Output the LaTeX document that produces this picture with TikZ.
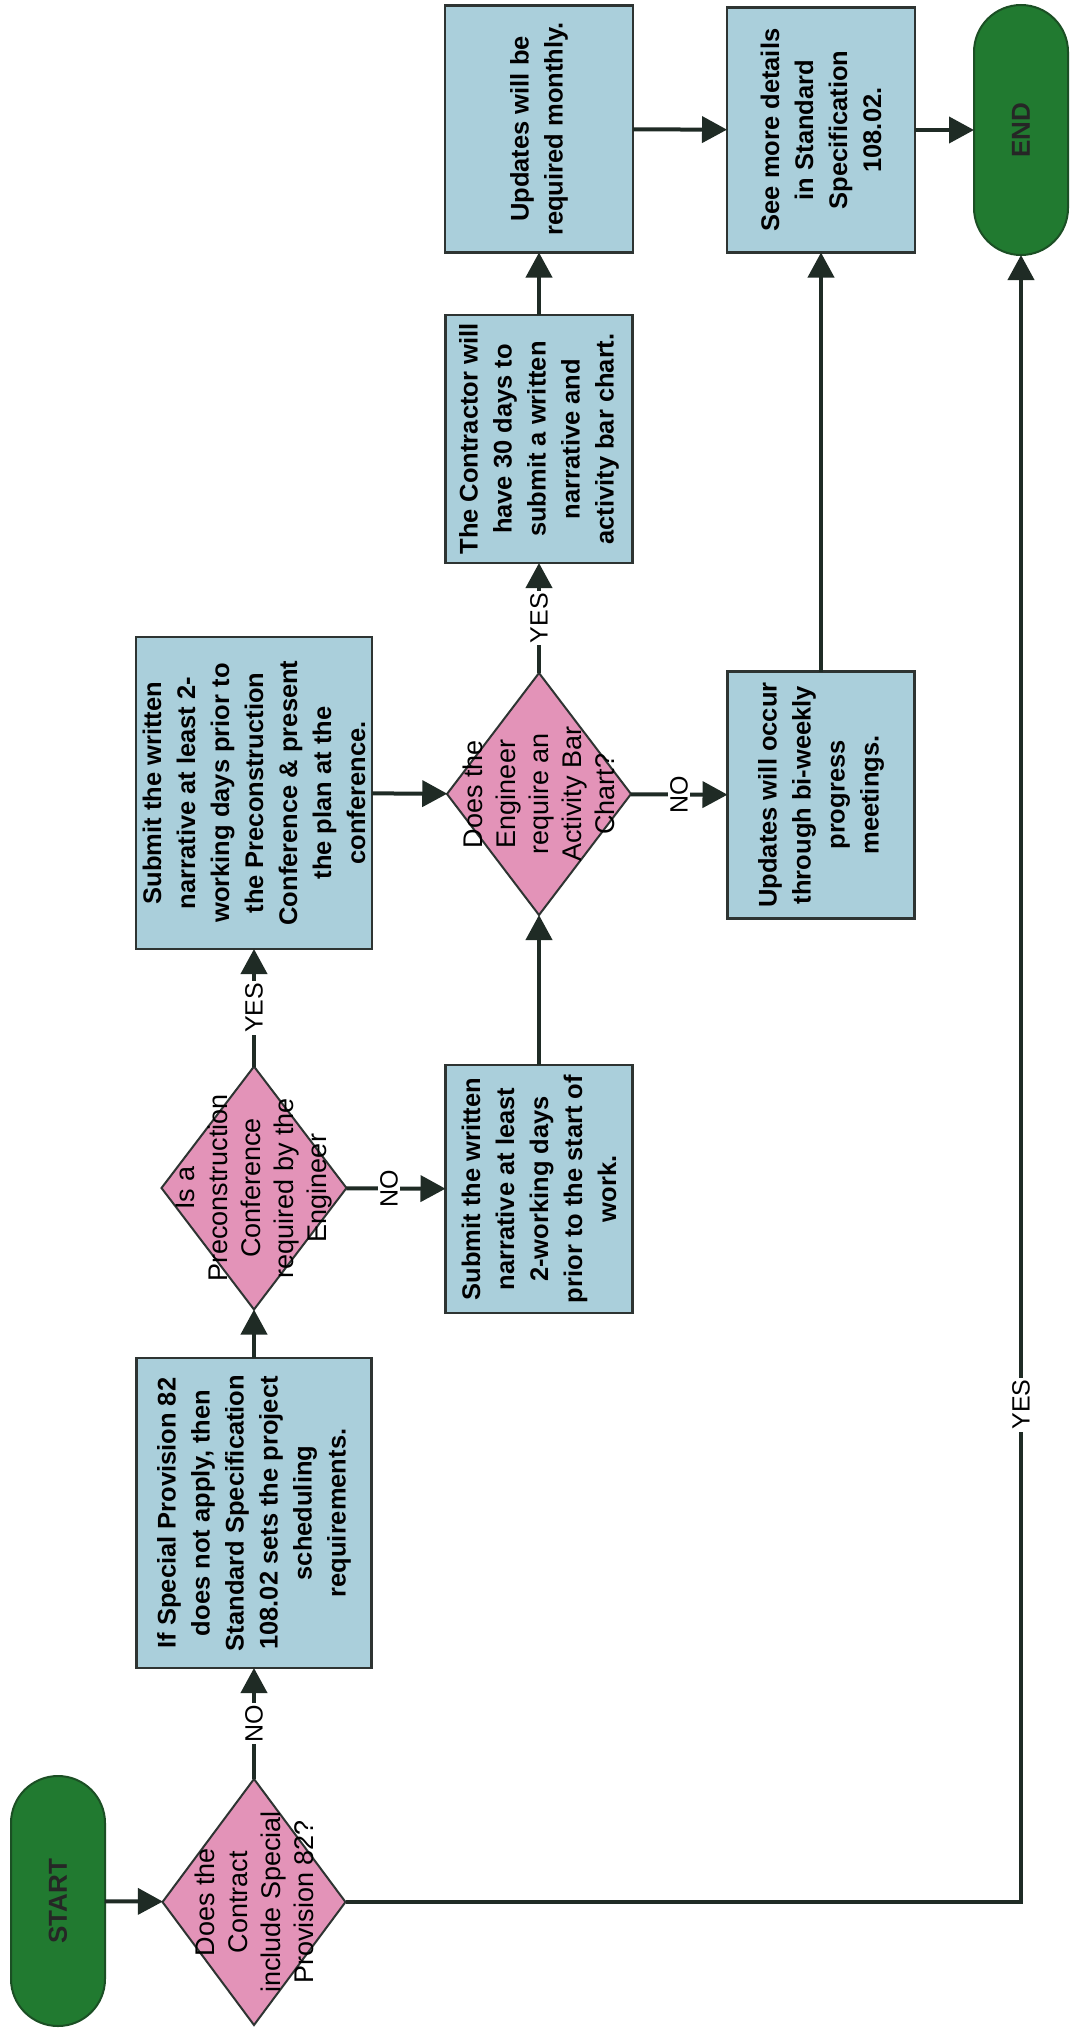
\documentclass[tikz,border=0pt]{standalone}
\usepackage{fontspec}
\setmainfont{Liberation Sans}
\usetikzlibrary{arrows.meta, shapes.geometric}
\definecolor{boxblue}{HTML}{AACFDB}
\definecolor{decpink}{HTML}{E393B8}
\definecolor{termgreen}{HTML}{217A30}
\definecolor{termedge}{HTML}{1B4F24}
\definecolor{wire}{HTML}{1F2B25}
\definecolor{edgegray}{HTML}{2E3432}

\begin{document}
\begin{tikzpicture}[x=1pt, y=-1pt,
  every node/.style={inner sep=0pt, outer sep=0pt},
  stepbox/.style={rectangle, draw=edgegray, line width=2.2pt, fill=boxblue,
    rotate=90, align=center, font=\fontsize{25.5}{34}\selectfont\bfseries, text=black},
  decision/.style={diamond, draw=edgegray, line width=2pt, fill=decpink},
  dectext/.style={rotate=90, align=center, font=\fontsize{27}{33}\selectfont, text=black},
  terminal/.style={rectangle, rounded corners=47pt, draw=termedge, line width=2pt,
    fill=termgreen, rotate=90, minimum width=250pt, minimum height=94pt,
    font=\fontsize{26}{30}\selectfont\bfseries, text=black!85},
  flow/.style={draw=wire, line width=4pt, -{Triangle[length=25pt,width=26pt]}},
  answer/.style={fill=white, rotate=90, inner sep=2pt,
    font=\fontsize{25}{30}\selectfont, text=black}
]
% page
\useasboundingbox (0,0) rectangle (1074,2028);
\fill[white] (0,0) rectangle (1074,2028);

% terminals
\node[terminal] (startnode) at (58,1901) {START};
\node[terminal] (endnode) at (1021,130) {END};

% decisions (shape and text kept apart so the text may overhang)
\node[decision, minimum width=183pt, minimum height=246pt] (d1) at (254,1902) {};
\node[dectext] (d1t) at (d1) {Does the\\Contract\\include Special\\Provision 82?};

\node[decision, minimum width=185pt, minimum height=243pt] (d2) at (254,1188) {};
\node[dectext] (d2t) at (d2) {Is a\\Preconstruction\\Conference\\required by the\\Engineer};

\node[decision, minimum width=184pt, minimum height=242pt] (d3) at (539,794) {};
\node[dectext] (d3t) at (d3) {Does the\\Engineer\\require an\\Activity Bar\\Chart?};

% process boxes (rotated: width runs along the text)
\node[stepbox, minimum width=310pt, minimum height=235pt] (box1) at (254,1513)
  {If Special Provision 82\\does not apply, then\\Standard Specification\\108.02 sets the project\\scheduling\\requirements.};
\node[stepbox, minimum width=312pt, minimum height=236pt] (b2) at (254,793)
  {Submit the written\\narrative at least 2-\\working days prior to\\the Preconstruction\\Conference \& present\\the plan at the\\conference.};
\node[stepbox, minimum width=248pt, minimum height=187pt] (b3) at (539,1189)
  {Submit the written\\narrative at least\\2-working days\\prior to the start of\\work.};
\node[stepbox, minimum width=248pt, minimum height=187pt] (b4) at (539,439)
  {The Contractor will\\have 30 days to\\submit a written\\narrative and\\activity bar chart.};
\node[stepbox, minimum width=247pt, minimum height=188pt] (um) at (539,129)
  {Updates will be\\required monthly.};
\node[stepbox, minimum width=245pt, minimum height=188pt] (sm) at (821,130)
  {See more details\\in Standard\\Specification\\108.02.};
\node[stepbox, minimum width=247pt, minimum height=187pt] (bw) at (821,795)
  {Updates will occur\\through bi-weekly\\progress\\meetings.};

% connectors
\draw[flow] (startnode) -- (d1);
\draw[flow] (d1) -- node[answer, pos=0.5] {NO} (box1);
\draw[flow] (d1.east) -| node[answer, pos=0.651] {YES} (endnode);
\draw[flow] (box1) -- (d2);
\draw[flow] (d2) -- node[answer, pos=0.5] {YES} (b2);
\draw[flow] (d2) -- node[answer, pos=0.43] {NO} (b3);
\draw[flow] (b2) -- (d3);
\draw[flow] (b3) -- (d3);
\draw[flow] (d3) -- node[answer, pos=0.5] {YES} (b4);
\draw[flow] (d3) -- node[answer, pos=0.5] {NO} (bw);
\draw[flow] (b4) -- (um);
\draw[flow] (um) -- (sm);
\draw[flow] (bw) -- (sm);
\draw[flow] (sm) -- (endnode);
\end{tikzpicture}
\end{document}
